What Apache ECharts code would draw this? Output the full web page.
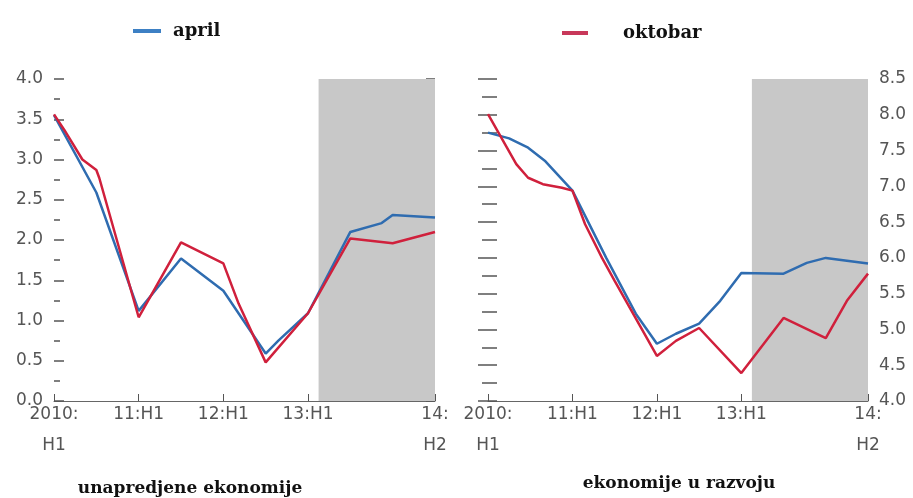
<!DOCTYPE html>
<html>
<head>
<meta charset="utf-8">
<script src="https://cdn.jsdelivr.net/npm/echarts@6/dist/echarts.min.js"></script>
<style>html,body{margin:0;padding:0;background:#fff;}#c{width:913px;height:498px;}</style>
</head>
<body>
<div id="c"></div>
<script>
// x = half-years since 2010:H1 (0 = 2010:H1 ... 9 = 14:H2)
const periodLabels = {0: '2010:\nH1', 2: '11:H1', 4: '12:H1', 6: '13:H1', 9: '14:\nH2'};
const labelPositions = [0, 2, 4, 6, 9];
const tickPositions = [0, 2, 4, 6, 8, 9];
const shadeStart = 6.25, shadeEnd = 9;

// advanced economies (left)
const advAprilT = [0, 1, 2, 3, 4, 5, 5.3, 6, 7, 7.74, 8, 9];
const advAprilV = [3.55, 2.59, 1.12, 1.77, 1.37, 0.59, 0.75, 1.09, 2.1, 2.21, 2.31, 2.28];
const advOctT = [0, 0.24, 0.67, 1, 1.07, 2, 3, 4, 4.36, 5, 6, 7, 8, 9];
const advOctV = [3.56, 3.37, 3.0, 2.87, 2.77, 1.04, 1.97, 1.71, 1.21, 0.48, 1.09, 2.02, 1.96, 2.1];

// emerging economies (right)
const emAprilT = [0, 0.5, 0.95, 1.36, 2, 2.8, 3.5, 4, 4.45, 5, 5.5, 6, 7, 7.55, 8, 9];
const emAprilV = [7.75, 7.67, 7.54, 7.35, 6.94, 6.0, 5.22, 4.8, 4.94, 5.08, 5.4, 5.79, 5.78, 5.93, 6.0, 5.92];
const emOctT = [0, 0.67, 0.95, 1.3, 1.75, 2, 2.3, 2.7, 3, 4, 4.45, 5, 6, 7, 8, 8.5, 9];
const emOctV = [8.01, 7.31, 7.12, 7.03, 6.98, 6.94, 6.47, 6.0, 5.68, 4.63, 4.84, 5.02, 4.39, 5.16, 4.88, 5.4, 5.78];

const BLUE = '#2f6cb0', RED = '#d0203c', GREY = '#c8c8c8';
const pair = (t, v) => t.map((x, i) => [x, v[i]]);
const labelFont = {color: '#555', fontFamily: 'DejaVu Sans', fontSize: 17};

function xAxis(gridIndex) {
  return {
    type: 'value', gridIndex, min: 0, max: 9,
    axisLine: {show: true, lineStyle: {color: '#666', width: 1}},
    axisTick: {show: true, inside: true, length: 7, lineStyle: {color: '#555'}, customValues: tickPositions},
    axisLabel: Object.assign({margin: -2, lineHeight: 31, customValues: labelPositions,
      formatter: v => periodLabels[v] || ''}, labelFont),
    splitLine: {show: false}
  };
}
function yMain(gridIndex, position, min, max) {
  return {
    type: 'value', gridIndex, position, min, max, interval: 0.5,
    axisLine: {show: false},
    axisTick: {show: true, inside: true, length: 10, lineStyle: {color: '#555', width: 1.5}},
    minorTick: {show: true, splitNumber: 2, length: 6, lineStyle: {color: '#555', width: 1.5}},
    axisLabel: Object.assign({margin: 11, formatter: v => v.toFixed(1)}, labelFont),
    splitLine: {show: false}
  };
}
function yMinor(gridIndex, position, min, max) {
  return {
    type: 'value', gridIndex, position, min, max, interval: 0.25,
    axisLine: {show: false},
    axisTick: {show: true, inside: true, length: 9, lineStyle: {color: '#555', width: 1.5}},
    axisLabel: {show: false},
    splitLine: {show: false}
  };
}
function line(name, color, data, xi, yi, shade) {
  const s = {
    name, type: 'line', xAxisIndex: xi, yAxisIndex: yi, data,
    showSymbol: false, symbol: 'none', z: 3,
    lineStyle: {color, width: 2.5}, itemStyle: {color}
  };
  if (shade) {
    s.markArea = {silent: true, itemStyle: {color: GREY, opacity: 1},
      data: [[{xAxis: shadeStart}, {xAxis: shadeEnd}]]};
  }
  return s;
}

const chart = echarts.init(document.getElementById('c'), null, {renderer: 'canvas'});
chart.setOption({
  animation: false,
  backgroundColor: '#fff',
  grid: [
    {left: 54, top: 79, width: 381, height: 322},
    {left: 488, top: 79, width: 380, height: 322}
  ],
  legend: [
    {left: 128, top: 17, data: [{name: 'april', itemStyle: {color: '#3d80c4'}}], icon: 'rect', itemWidth: 28, itemHeight: 4,
     textStyle: {fontFamily: 'DejaVu Serif', fontWeight: 'bold', fontSize: 18, color: '#111', padding: [0, 0, 0, 7]}},
    {left: 557, top: 19, data: [{name: 'oktobar', itemStyle: {color: '#c8385a'}}], icon: 'rect', itemWidth: 26, itemHeight: 4,
     textStyle: {fontFamily: 'DejaVu Serif', fontWeight: 'bold', fontSize: 18, color: '#111', padding: [0, 0, 0, 30]}}
  ],
  title: [
    {text: 'unapredjene ekonomije', left: 185, top: 475, textAlign: 'center',
     textStyle: {fontFamily: 'DejaVu Serif', fontWeight: 'bold', fontSize: 17, color: '#111'}},
    {text: 'ekonomije u razvoju', left: 674, top: 470, textAlign: 'center',
     textStyle: {fontFamily: 'DejaVu Serif', fontWeight: 'bold', fontSize: 17, color: '#111'}}
  ],
  xAxis: [xAxis(0), xAxis(1)],
  yAxis: [
    yMain(0, 'left', 0, 4),
    yMinor(0, 'right', 0, 4),
    yMain(1, 'right', 4, 8.5),
    yMinor(1, 'left', 4, 8.5)
  ],
  series: [
    line('april', BLUE, pair(advAprilT, advAprilV), 0, 0, true),
    line('oktobar', RED, pair(advOctT, advOctV), 0, 0, false),
    line('april', BLUE, pair(emAprilT, emAprilV), 1, 2, true),
    line('oktobar', RED, pair(emOctT, emOctV), 1, 2, false)
  ]
});
</script>
</body>
</html>
